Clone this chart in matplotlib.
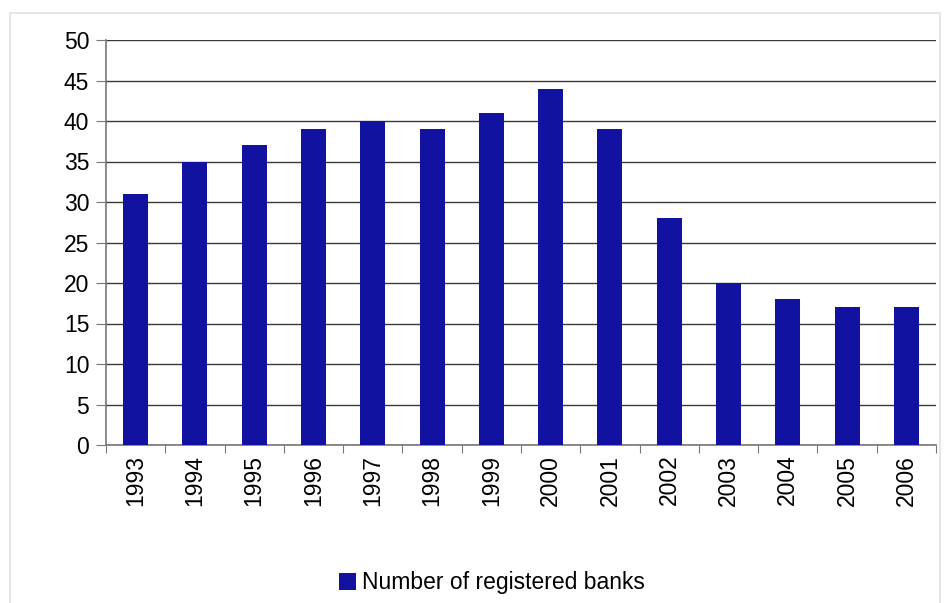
import matplotlib.pyplot as plt
from matplotlib.patches import Rectangle

years = ["1993", "1994", "1995", "1996", "1997", "1998", "1999",
         "2000", "2001", "2002", "2003", "2004", "2005", "2006"]
banks = [31, 35, 37, 39, 40, 39, 41, 44, 39, 28, 20, 18, 17, 17]

plt.rcParams['font.family'] = ['Liberation Sans', 'DejaVu Sans']

fig = plt.figure(figsize=(9.45, 6.03), dpi=100)
W, H = 945, 603
ax = fig.add_axes([106 / W, 1 - 445 / H, (936 - 106) / W, (445 - 40) / H])

# light frame around the chart area
fig.patches.append(Rectangle((10 / W, -0.05), (940 - 10) / W, 1 - 13 / H + 0.05,
                             transform=fig.transFigure, fill=False,
                             edgecolor='#e2e2e2', linewidth=1.2))

x = range(len(years))
ax.bar(x, banks, width=0.42, color='#1212a0', label='Number of registered banks',
       zorder=3)

ax.set_xlim(-0.5, len(years) - 0.5)
ax.set_ylim(0, 50)
ax.set_yticks(range(0, 51, 5))
ax.yaxis.grid(True, color='#3a3a3a', linewidth=1.0, zorder=0)
ax.set_axisbelow(True)

# tick marks sit between categories, labels sit under the bars
ax.set_xticks([i + 0.5 for i in range(-1, len(years))], minor=False)
ax.set_xticklabels([])
ax.set_xticks(list(x), minor=True)
ax.set_xticklabels(years, minor=True, rotation=90, fontsize=16.5)
ax.tick_params(axis='x', which='minor', length=0, pad=7)
ax.tick_params(axis='x', which='major', length=6, color='#777777', direction='out')
ax.tick_params(axis='y', length=7, color='#777777', labelsize=16.5, pad=5)

for side in ['top', 'right']:
    ax.spines[side].set_visible(False)
for side in ['left', 'bottom']:
    ax.spines[side].set_color('#777777')
    ax.spines[side].set_linewidth(1.2)

fig.legend(loc='center', bbox_to_anchor=(492 / W, 1 - 583 / H), frameon=False,
           fontsize=16.5, handlelength=0.75, handleheight=0.75, handletextpad=0.25)

fig.savefig('out.png', dpi=100)
